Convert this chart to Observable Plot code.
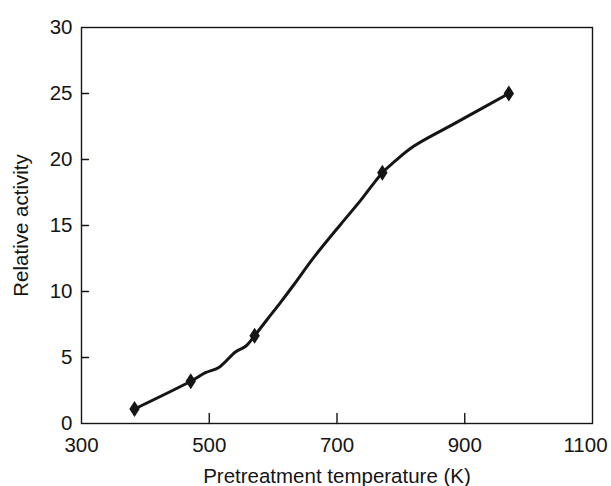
<!DOCTYPE html>
<html>
<head>
<meta charset="utf-8">
<script src="https://cdn.jsdelivr.net/npm/d3@7"></script>
<script src="https://cdn.jsdelivr.net/npm/@observablehq/plot@0.6"></script>
<style>
  html, body { margin: 0; padding: 0; background: #fff; }
  #chart { width: 611px; height: 486px; }
</style>
</head>
<body>
<div id="chart"></div>
<script>
// Tick values
const xTicks = [300, 500, 700, 900];
const xLastTick = [1100];
const yTicks = [0, 5, 10, 15, 20, 25, 30];
const innerXTicks = [500, 700, 900];
const innerYTicks = [5, 10, 15, 20, 25];

// Measured points (diamonds)
const markerTemp = [383, 471, 571, 771, 969];
const markerActivity = [1.1, 3.2, 6.65, 19.0, 25.0];

// Drawn curve
const curveTemp =     [383, 471, 494, 515, 541, 557, 571, 591, 612, 633, 664, 706, 737, 771, 789, 820, 883, 969];
const curveActivity = [1.1, 3.2, 3.85, 4.25, 5.42, 5.85, 6.65, 7.9, 9.2, 10.55, 12.6, 15.1, 16.9, 19.0, 19.8, 21.0, 22.7, 25.0];

const markers = markerTemp.map((t, i) => ({t, a: markerActivity[i]}));
const curve = curveTemp.map((t, i) => ({t, a: curveActivity[i]}));

const ink = "#151515";
const tickShape = { draw(context, l) { context.moveTo(0, 0); context.lineTo(0, -l); } };
const tallDiamond = {
  draw(context, size) {
    const r = Math.sqrt(size / Math.PI);
    context.moveTo(0, -1.55 * r);
    context.lineTo(r, 0);
    context.lineTo(0, 1.55 * r);
    context.lineTo(-r, 0);
    context.closePath();
  }
};
const fmt = d => String(d);

const chart = Plot.plot({
  width: 611,
  height: 486,
  marginLeft: 81,
  marginRight: 19,
  marginTop: 27,
  marginBottom: 63,
  style: { fontFamily: "'Liberation Sans', Arial, Helvetica, sans-serif", fontSize: "21px", color: ink, background: "#fff" },
  x: { domain: [300, 1100] },
  y: { domain: [0, 30] },
  marks: [
    Plot.frame({ stroke: ink, strokeWidth: 1.4 }),
    Plot.axisX(xTicks, {
      tickSize: 0, tickPadding: 14, fontSize: 20.5, fill: ink, tickFormat: fmt,
      label: "Pretreatment temperature (K)", labelAnchor: "center", labelArrow: "none", labelOffset: 59
    }),
    Plot.axisX(xLastTick, { tickSize: 0, tickPadding: 14, fontSize: 20.5, fill: ink, tickFormat: fmt, dx: -7, label: null }),
    Plot.axisY(yTicks, {
      tickSize: 0, tickPadding: 9, fontSize: 20.5, fill: ink, tickFormat: fmt,
      label: "Relative activity", labelAnchor: "center", labelArrow: "none", labelOffset: 68
    }),
    Plot.vector(innerXTicks, { x: d => d, frameAnchor: "bottom", length: 10, rotate: 0, anchor: "start", shape: tickShape, stroke: ink, strokeWidth: 1.4 }),
    Plot.vector(innerYTicks, { y: d => d, frameAnchor: "left", length: 7, rotate: 90, anchor: "start", shape: tickShape, stroke: ink, strokeWidth: 1.4 }),
    Plot.line(curve, { x: "t", y: "a", curve: "catmull-rom", stroke: ink, strokeWidth: 3, strokeLinejoin: "round" }),
    Plot.dot(markers, { x: "t", y: "a", symbol: tallDiamond, r: 5.2, fill: ink, stroke: "none" })
  ]
});

document.getElementById("chart").appendChild(chart);
</script>
</body>
</html>
